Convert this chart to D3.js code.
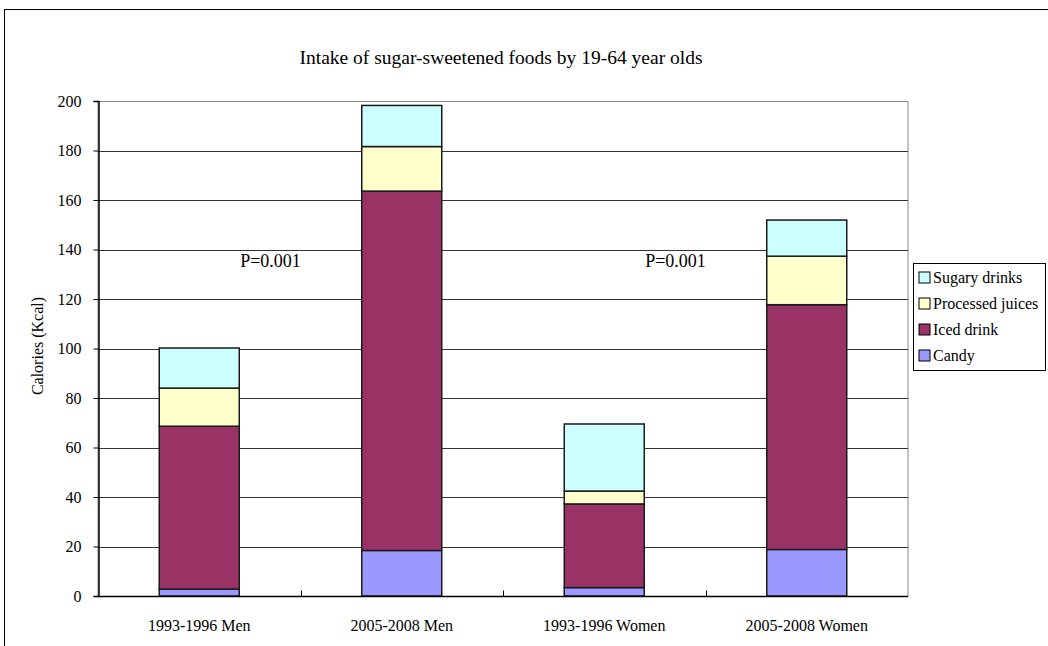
<!DOCTYPE html>
<html>
<head>
<meta charset="utf-8">
<script src="https://cdn.jsdelivr.net/npm/d3@7"></script>
<style>
  body { margin: 0; background: #fff; }
  text { font-family: "Liberation Serif", "DejaVu Serif", serif; fill: #000; }
</style>
</head>
<body>
<div id="chart"></div>
<script>
// data
var categories = ["1993-1996 Men", "2005-2008 Men", "1993-1996 Women", "2005-2008 Women"];
var seriesNames = ["Candy", "Iced drink", "Processed juices", "Sugary drinks"];
var candy = [2.8, 18.4, 3.4, 18.8];
var icedDrink = [65.8, 145.2, 33.8, 98.9];
var processedJuices = [15.4, 18.0, 5.2, 19.6];
var sugaryDrinks = [16.2, 16.6, 27.1, 14.6];
var yTicks = [0, 20, 40, 60, 80, 100, 120, 140, 160, 180, 200];
var pLabels = ["P=0.001", "P=0.001"];

var colors = ["#9999FF", "#993366", "#FFFFCC", "#CCFFFF"];

var w = 1048, h = 646;
var plotLeft = 98, plotRight = 908, plotTop = 101, plotBottom = 596;

var svg = d3.select("#chart").append("svg")
    .attr("width", w)
    .attr("height", h);

// outer frame (runs off the right and bottom edges)
svg.append("rect")
    .attr("x", 4.5).attr("y", 9.5)
    .attr("width", w + 10).attr("height", h + 10)
    .attr("fill", "none")
    .attr("stroke", "#000")
    .attr("stroke-width", 1);

// build table for stack
var table = categories.map(function(c, i) {
    return {
        cat: c,
        "Candy": candy[i],
        "Iced drink": icedDrink[i],
        "Processed juices": processedJuices[i],
        "Sugary drinks": sugaryDrinks[i]
    };
});
var stacked = d3.stack().keys(seriesNames)(table);

var xScale = d3.scaleBand()
    .domain(categories)
    .range([plotLeft, plotRight]);

var yScale = d3.scaleLinear()
    .domain([0, 200])
    .range([plotBottom, plotTop]);

var barW = 80;

// plot area border
svg.append("rect")
    .attr("x", plotLeft).attr("y", plotTop + 0.5)
    .attr("width", plotRight - plotLeft).attr("height", plotBottom - plotTop)
    .attr("fill", "none")
    .attr("stroke", "#888")
    .attr("stroke-width", 1);

// gridlines
svg.append("g")
    .selectAll("line")
    .data(yTicks.filter(function(d) { return d > 0 && d < 200; }))
    .enter()
    .append("line")
    .attr("x1", plotLeft).attr("x2", plotRight)
    .attr("y1", function(d) { return Math.round(yScale(d)) + 0.5; })
    .attr("y2", function(d) { return Math.round(yScale(d)) + 0.5; })
    .attr("stroke", "#333")
    .attr("stroke-width", 1);

// bars
svg.append("g")
    .selectAll("g")
    .data(stacked)
    .enter()
    .append("g")
    .attr("fill", function(d, i) { return colors[i]; })
    .selectAll("rect")
    .data(function(d) { return d; })
    .enter()
    .append("rect")
    .attr("x", function(d) { return xScale(d.data.cat) + xScale.bandwidth() / 2 - barW / 2; })
    .attr("y", function(d) { return yScale(d[1]); })
    .attr("width", barW)
    .attr("height", function(d) { return yScale(d[0]) - yScale(d[1]); })
    .attr("stroke", "#1a1a1a")
    .attr("stroke-width", 1.5);

// y axis
var yAxis = d3.axisLeft(yScale)
    .tickValues(yTicks)
    .tickSize(5)
    .tickPadding(12)
    .tickFormat(d3.format("d"));
var gy = svg.append("g")
    .attr("transform", "translate(" + (plotLeft + 0.5) + ",0)")
    .call(yAxis);
gy.select(".domain").attr("stroke", "#000").attr("stroke-width", 1.5);
gy.selectAll(".tick text").style("font-size", "16px").attr("font-family", "Liberation Serif");

// x axis with ticks between categories, pointing up
var xAxisScale = d3.scaleLinear().domain([0, 4]).range([plotLeft, plotRight]);
var gx = svg.append("g")
    .attr("transform", "translate(0," + (plotBottom + 0.5) + ")");
gx.append("line")
    .attr("x1", plotLeft).attr("x2", plotRight)
    .attr("stroke", "#000").attr("stroke-width", 1.5);
gx.selectAll(".xtick")
    .data([1, 2, 3])
    .enter()
    .append("line")
    .attr("class", "xtick")
    .attr("x1", function(d) { return Math.round(xAxisScale(d)) + 0.5; })
    .attr("x2", function(d) { return Math.round(xAxisScale(d)) + 0.5; })
    .attr("y1", 0).attr("y2", -6)
    .attr("stroke", "#000");
gx.selectAll(".xlabel")
    .data(categories)
    .enter()
    .append("text")
    .attr("class", "xlabel")
    .attr("x", function(d) { return xScale(d) + xScale.bandwidth() / 2; })
    .attr("y", 34)
    .attr("text-anchor", "middle")
    .style("font-size", "16px")
    .text(function(d) { return d; });

// title
svg.append("text")
    .attr("x", 501).attr("y", 64)
    .attr("text-anchor", "middle")
    .style("font-size", "19.5px")
    .text("Intake of sugar-sweetened foods by 19-64 year olds");

// y axis title
svg.append("text")
    .attr("transform", "translate(43,346) rotate(-90)")
    .attr("text-anchor", "middle")
    .style("font-size", "16px")
    .text("Calories (Kcal)");

// p value labels
svg.selectAll(".plabel")
    .data(pLabels)
    .enter()
    .append("text")
    .attr("class", "plabel")
    .attr("x", function(d, i) { return xScale(categories[i * 2]) + xScale.bandwidth() - 30; })
    .attr("y", yScale(133))
    .attr("text-anchor", "middle")
    .style("font-size", "18px")
    .text(function(d) { return d; });

// legend
var legend = svg.append("g").attr("transform", "translate(913,263)");
legend.append("rect")
    .attr("x", 0.5).attr("y", 0.5)
    .attr("width", 132).attr("height", 107)
    .attr("fill", "#fff")
    .attr("stroke", "#000");
var legendOrder = seriesNames.slice().reverse();
var item = legend.selectAll(".item")
    .data(legendOrder)
    .enter()
    .append("g")
    .attr("class", "item")
    .attr("transform", function(d, i) { return "translate(6," + (9 + i * 26) + ")"; });
item.append("rect")
    .attr("width", 11).attr("height", 11)
    .attr("fill", function(d) { return colors[seriesNames.indexOf(d)]; })
    .attr("stroke", "#000");
item.append("text")
    .attr("x", 14).attr("y", 11)
    .style("font-size", "16px")
    .text(function(d) { return d; });
</script>
</body>
</html>
